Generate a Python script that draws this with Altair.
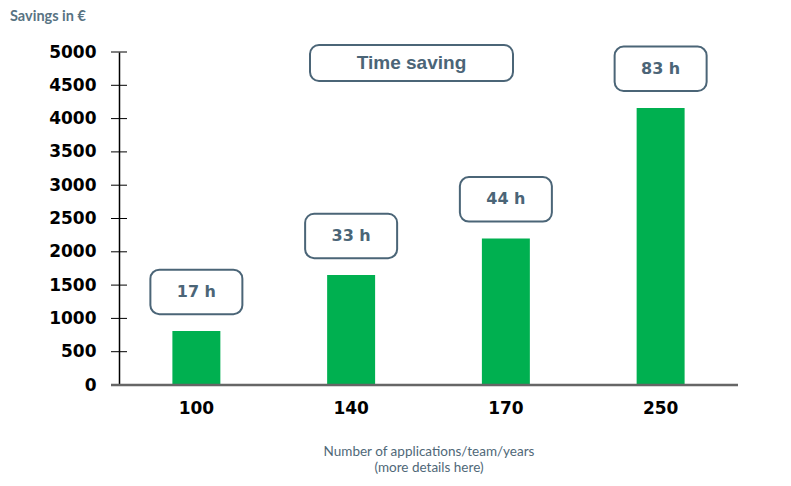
import altair as alt
import pandas as pd

categories = ["100", "140", "170", "250"]
savings = [810, 1650, 2200, 4160]
hours = ["17 h", "33 h", "44 h", "83 h"]
y_ticks = [0, 500, 1000, 1500, 2000, 2500, 3000, 3500, 4000, 4500, 5000]

df = pd.DataFrame({"cat": categories, "value": savings, "label": hours})
ticks_df = pd.DataFrame({"t": y_ticks})
one = pd.DataFrame({"a": [0]})

W, H = 619, 333
slate = "#4b6577"
green = "#00b050"

xaxis = alt.Axis(
    domain=False, ticks=False, labelAngle=0,
    labelFont="DejaVu Sans", labelFontWeight="bold", labelFontSize=17,
    labelColor="#000000", labelPadding=15,
    title=["Number of applications/team/years", "(more details here)"],
    titleFont="Lato", titleFontSize=13.5, titleFontWeight="normal",
    titleColor="#4f6878", titlePadding=28, titleLineHeight=16,
)
yaxis = alt.Axis(
    values=y_ticks, format="d", labelOverlap=False, grid=False,
    ticks=False, tickSize=0,
    domainColor="#000000", domainWidth=1.5,
    labelFont="DejaVu Sans", labelFontWeight="bold", labelFontSize=17,
    labelColor="#000000", labelPadding=23, title=None,
)
xscale = alt.Scale(paddingInner=0.69, paddingOuter=0.345)
yscale = alt.Scale(domain=[0, 5000], nice=False, zero=True)


def xenc():
    return alt.X("cat:N", sort=categories, scale=xscale, axis=xaxis)


def yenc(field):
    return alt.Y(field, scale=yscale, axis=yaxis)


bars = alt.Chart(df).mark_bar(color=green).encode(
    x=xenc(),
    y=yenc("value:Q"),
)

boxes_base = alt.Chart(df).transform_calculate(
    lo="datum.value + 254", hi="datum.value + 922", mid="datum.value + 588"
)
boxes = boxes_base.mark_bar(
    width=92, cornerRadius=9, fill="white", stroke=slate, strokeWidth=2
).encode(
    x=xenc(),
    y=yenc("lo:Q"),
    y2="hi:Q",
)
box_text = boxes_base.mark_text(
    font="DejaVu Sans", fontWeight="bold", fontSize=16, color=slate, baseline="middle"
).encode(
    x=xenc(),
    y=yenc("mid:Q"),
    text="label:N",
)

tick_rules = alt.Chart(ticks_df).mark_rule(color="#000000", strokeWidth=1).encode(
    y=yenc("t:Q"),
    x=alt.value(-8),
    x2=alt.value(8),
)

x_line = alt.Chart(one).mark_rule(color="#666666", strokeWidth=2.5).encode(
    y=alt.value(H),
    x=alt.value(-8),
    x2=alt.value(W),
)

ts_box = alt.Chart(one).mark_rect(
    cornerRadius=9, fill="white", stroke=slate, strokeWidth=2
).encode(
    x=alt.value(191), x2=alt.value(394), y=alt.value(-7), y2=alt.value(29)
)
ts_text = alt.Chart(one).mark_text(
    text="Time saving", font="Liberation Sans", fontWeight="bold", fontSize=19,
    color=slate, baseline="middle", align="center"
).encode(x=alt.value(292.5), y=alt.value(11))

title_text = alt.Chart(one).mark_text(
    text="Savings in €", font="Lato", fontWeight="bold", fontSize=14.5,
    color="#587383", align="left", baseline="middle"
).encode(x=alt.value(-109), y=alt.value(-35.5))

chart = alt.layer(
    bars, boxes, box_text, tick_rules, x_line, ts_box, ts_text, title_text
).properties(
    width=W, height=H,
    autosize=alt.AutoSizeParams(type="none"),
    padding={"left": 111, "top": 44, "right": 45, "bottom": 93},
).configure_view(stroke=None)

chart.save("out.html", embed_options={"renderer": "svg", "actions": False})
